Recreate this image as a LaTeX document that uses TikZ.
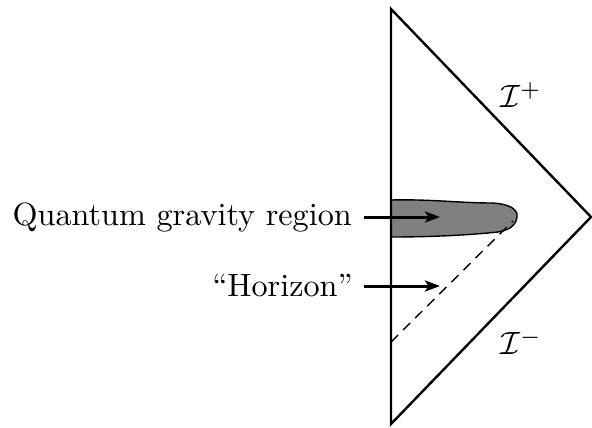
\documentclass[tikz,border=0pt]{standalone}
\usetikzlibrary{arrows.meta}
\begin{document}
\begin{tikzpicture}[x=1pt,y=-1pt,
  edge/.style={line width=2.4pt, line join=miter},
  pointer/.style={line width=3pt, -{Stealth[length=15pt,width=11pt,inset=3.5pt]}},
  label/.style={anchor=east, inner sep=0pt}]
\useasboundingbox (0,0) rectangle (592,428);
% Penrose triangle
\coordinate (top) at (391,9);
\coordinate (bot) at (391,424);
\coordinate (tip) at (591,217);
% quantum gravity blob
\filldraw[fill=black!50, draw=black, line width=1.4pt]
  (391,200) .. controls (430,199) and (460,203) .. (492,203)
  .. controls (511,204) and (518,210) .. (517,217)
  .. controls (516,225) and (510,230) .. (498,232)
  .. controls (460,236) and (420,237) .. (391,237) -- cycle;
\coordinate (hstart) at (391,342);
\coordinate (hend) at (513,221);
\draw[line width=1.4pt, dash pattern=on 10pt off 7pt] (hstart) -- (hend);
\draw[edge] (top) -- (tip) -- (bot) -- cycle;
% labels
\node[label] (qg) at (352,217) {\scalebox{3.22}{Quantum gravity region}};
\node[label] (hz) at (353,286) {\scalebox{3.22}{``Horizon''}};
\coordinate (qgt) at (440,217);
\coordinate (hzt) at (440,286);
\draw[pointer] (qg.east) ++(12,0) -- (qgt);
\draw[pointer] (hz.east) ++(11,0) -- (hzt);
\node (ip) at (521,95) {\scalebox{3.22}{$\mathcal{I}^+$}};
\node (im) at (521,342) {\scalebox{3.22}{$\mathcal{I}^-$}};
\end{tikzpicture}
\end{document}
